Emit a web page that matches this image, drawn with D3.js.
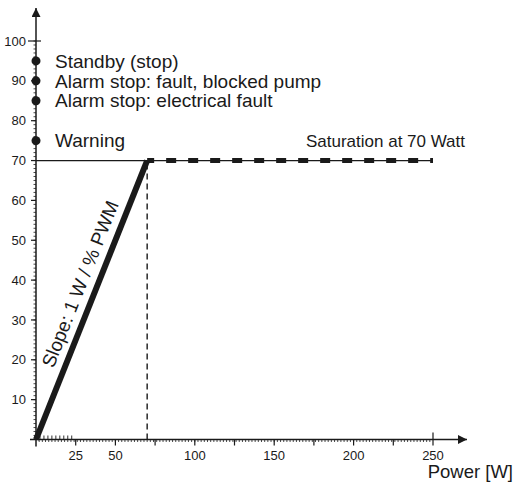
<!DOCTYPE html>
<html>
<head>
<meta charset="utf-8">
<script src="https://cdn.jsdelivr.net/npm/d3@7"></script>
<style>
  body { margin: 0; background: #fff; }
  text { font-family: "Liberation Sans", Arial, sans-serif; fill: #1a1a1a; }
</style>
</head>
<body>
<div id="chart"></div>
<script>
// data
var stateLevels = [95, 90, 85, 75];
var stateLabels = ["Standby (stop)", "Alarm stop: fault, blocked pump", "Alarm stop: electrical fault", "Warning"];
var rampPower = [0, 70];
var rampPwm = [0, 70];
var satPower = [70, 250];
var satPwm = [70, 70];
var xTickValues = [25, 50, 75, 100, 125, 150, 175, 200, 225, 250];
var xTickLabels = [25, 50, 100, 150, 200, 250];
var yTickValues = [10, 20, 30, 40, 50, 60, 70, 80, 90, 100];

var W = 515, H = 483;
var ink = "#1a1a1a";

var svg = d3.select("#chart").append("svg")
  .attr("width", W)
  .attr("height", H);

var x = d3.scaleLinear().domain([0, 250]).range([36, 433]);
var y = d3.scaleLinear().domain([0, 100]).range([439.5, 41]);

// minor ticks
svg.append("g").selectAll("line")
  .data(d3.range(1, 101, 1))
  .join("line")
    .attr("x1", x(0) - 2.5).attr("x2", x(0))
    .attr("y1", function(d) { return y(d); }).attr("y2", function(d) { return y(d); })
    .attr("stroke", ink).attr("stroke-width", 0.8);
svg.append("g").selectAll("line")
  .data(d3.range(2, 250, 2))
  .join("line")
    .attr("x1", function(d) { return x(d); }).attr("x2", function(d) { return x(d); })
    .attr("y1", y(0)).attr("y2", y(0) + 2.5)
    .attr("stroke", ink).attr("stroke-width", 0.8);
svg.append("g").selectAll("line")
  .data(d3.range(2.5, 25, 2.5))
  .join("line")
    .attr("x1", function(d) { return x(d); }).attr("x2", function(d) { return x(d); })
    .attr("y1", y(0) - 4).attr("y2", y(0))
    .attr("stroke", ink).attr("stroke-width", 0.9);

// axes with arrows
svg.append("defs").append("marker")
  .attr("id", "arrow")
  .attr("viewBox", "0 0 10 10")
  .attr("refX", 10).attr("refY", 5)
  .attr("markerWidth", 14).attr("markerHeight", 9)
  .attr("markerUnits", "userSpaceOnUse")
  .attr("orient", "auto")
  .append("path").attr("d", "M0,0 L10,5 L0,10 Z").attr("fill", ink);

svg.append("line")
  .attr("x1", x(0)).attr("x2", x(0))
  .attr("y1", y(0) + 7).attr("y2", 8)
  .attr("stroke", ink).attr("stroke-width", 1.5)
  .attr("marker-end", "url(#arrow)");
svg.append("line")
  .attr("x1", x(0) - 6).attr("x2", 467)
  .attr("y1", y(0)).attr("y2", y(0))
  .attr("stroke", ink).attr("stroke-width", 1.5)
  .attr("marker-end", "url(#arrow)");

// major ticks
svg.append("g").selectAll("line")
  .data(yTickValues)
  .join("line")
    .attr("x1", function(d) { return d == 100 ? x(0) - 8 : x(0) - 5; })
    .attr("x2", function(d) { return d == 100 ? x(0) + 5 : x(0); })
    .attr("y1", function(d) { return y(d); }).attr("y2", function(d) { return y(d); })
    .attr("stroke", ink).attr("stroke-width", 1.2);
svg.append("g").selectAll("text")
  .data(yTickValues)
  .join("text")
    .attr("x", 26)
    .attr("y", function(d) { return y(d); })
    .attr("dy", "0.35em")
    .attr("text-anchor", "end")
    .attr("font-size", 13)
    .text(function(d) { return d; });

svg.append("g").selectAll("line")
  .data(xTickValues)
  .join("line")
    .attr("x1", function(d) { return x(d); }).attr("x2", function(d) { return x(d); })
    .attr("y1", function(d) { return d == 250 ? y(0) - 7 : y(0); })
    .attr("y2", y(0) + 6)
    .attr("stroke", ink).attr("stroke-width", 1.2);
svg.append("g").selectAll("text")
  .data(xTickLabels)
  .join("text")
    .attr("x", function(d) { return x(d); })
    .attr("y", 460)
    .attr("text-anchor", "middle")
    .attr("font-size", 13)
    .text(function(d) { return d; });

svg.append("text")
  .attr("x", 513).attr("y", 478)
  .attr("text-anchor", "end")
  .attr("font-size", 18.5)
  .text("Power [W]");

// saturation: thin reference line, thick dashes on top
var line = d3.line()
  .x(function(d) { return x(d[0]); })
  .y(function(d) { return y(d[1]); });

svg.append("path")
  .datum([[0, satPwm[0]], [satPower[1], satPwm[1]]])
  .attr("d", line)
  .attr("fill", "none").attr("stroke", ink).attr("stroke-width", 1.2);
svg.append("path")
  .datum(d3.zip(satPower, satPwm))
  .attr("d", line)
  .attr("fill", "none").attr("stroke", ink).attr("stroke-width", 5)
  .attr("stroke-dasharray", "10,12").attr("stroke-dashoffset", 3);

// vertical dashed drop at saturation start
svg.append("path")
  .datum([[rampPower[1], 0], [rampPower[1], rampPwm[1]]])
  .attr("d", line)
  .attr("fill", "none").attr("stroke", ink).attr("stroke-width", 1.4)
  .attr("stroke-dasharray", "6,4");

// ramp
svg.append("path")
  .datum(d3.zip(rampPower, rampPwm))
  .attr("d", line)
  .attr("fill", "none").attr("stroke", ink).attr("stroke-width", 6);

var angle = Math.atan2(y(rampPwm[0]) - y(rampPwm[1]), x(rampPower[1]) - x(rampPower[0])) * 180 / Math.PI;
svg.append("text")
  .attr("transform", "translate(" + x(37.5) + "," + y(37.5) + ") rotate(" + (-angle) + ")")
  .attr("x", 0).attr("y", -10)
  .attr("text-anchor", "middle")
  .attr("font-size", 19)
  .text("Slope: 1 W / % PWM");

// state markers on the PWM axis
svg.append("g").selectAll("circle")
  .data(stateLevels)
  .join("circle")
    .attr("cx", x(0))
    .attr("cy", function(d) { return y(d); })
    .attr("r", 4.5)
    .attr("fill", ink);
svg.append("g").selectAll("text")
  .data(stateLevels)
  .join("text")
    .attr("x", 55)
    .attr("y", function(d) { return y(d); })
    .attr("dy", "0.35em")
    .attr("font-size", 19)
    .text(function(d, i) { return stateLabels[i]; });

svg.append("text")
  .attr("x", x(170)).attr("y", y(75))
  .attr("dy", "0.35em")
  .attr("font-size", 17)
  .text("Saturation at 70 Watt");
</script>
</body>
</html>
